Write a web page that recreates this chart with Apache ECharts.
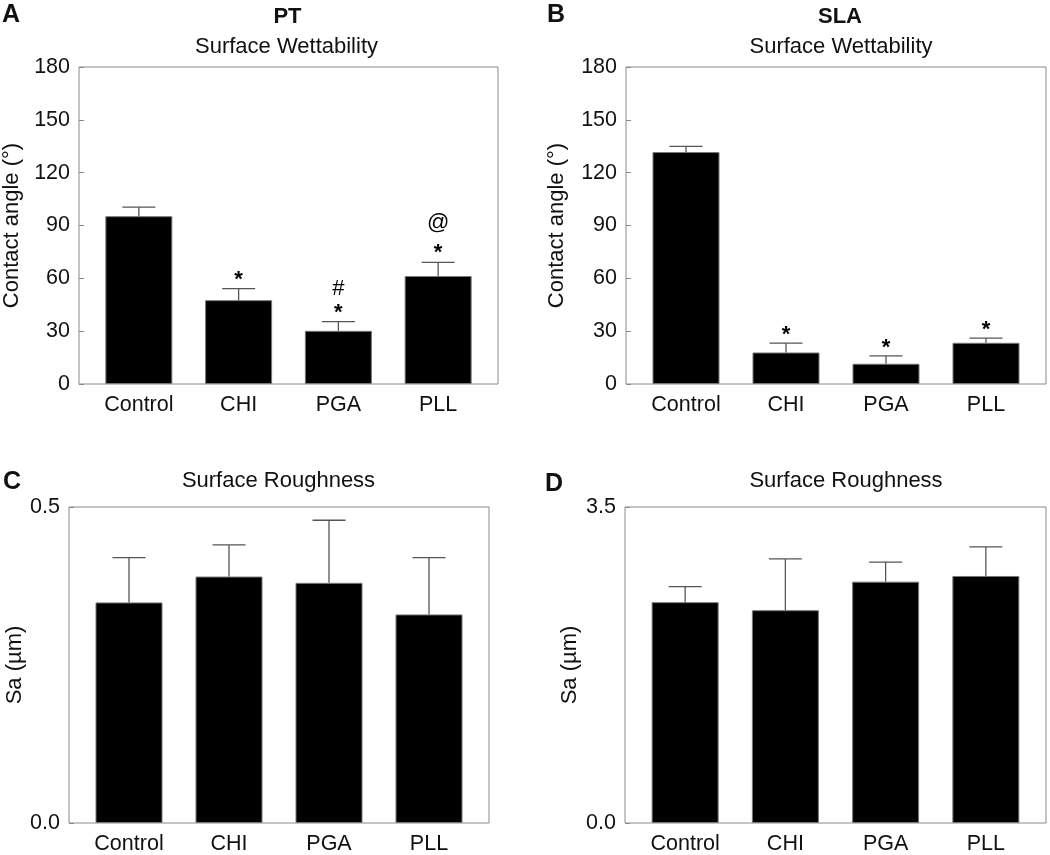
<!DOCTYPE html>
<html><head><meta charset="utf-8">
<script src="https://cdn.jsdelivr.net/npm/echarts@6/dist/echarts.min.js"></script>
<style>html,body{margin:0;padding:0;background:#fff}#c{width:1050px;height:855px}</style>
</head><body><div id="c"></div>
<script>
// ---- data ----
const categories = ['Control', 'CHI', 'PGA', 'PLL'];
// Panel A: PT, surface wettability (contact angle, deg)
const ptAngle = [95.3, 47.6, 30.2, 61.3];
const ptAngleErr = [5.1, 6.5, 5.2, 7.8];
const ptMarks = [[], ['*'], ['#', '*'], ['@', '*']];
// Panel B: SLA, surface wettability
const slaAngle = [131.7, 17.9, 11.5, 23.4];
const slaAngleErr = [3.2, 5.3, 4.5, 2.6];
const slaMarks = [[], ['*'], ['*'], ['*']];
// Panel C: PT, surface roughness Sa (um)
const ptSa = [0.349, 0.390, 0.380, 0.330];
const ptSaErr = [0.071, 0.050, 0.099, 0.090];
// Panel D: SLA, surface roughness Sa (um)
const slaSa = [2.446, 2.357, 2.673, 2.736];
const slaSaErr = [0.172, 0.569, 0.217, 0.322];
// axis ranges [min, max, interval]
const angleAxisRange = [0, 180, 30];
const ptSaAxisRange = [0, 0.5, 0.5];
const slaSaAxisRange = [0, 3.5, 3.5];

// ---- styles ----
const FONT = '"Liberation Sans", Arial, Helvetica, sans-serif';
const FRAME = '#8a8a8a';
const ERR = '#555';
const TXT = '#111';

const chart = echarts.init(document.getElementById('c'), null, {renderer: 'canvas'});

const grids = [
  {left: 77, top: 67, width: 421, height: 317},
  {left: 626, top: 67, width: 420, height: 317},
  {left: 69, top: 507, width: 420, height: 317},
  {left: 625, top: 507, width: 421, height: 317}
].map(g => Object.assign(g, {show: true, borderColor: FRAME, borderWidth: 1, backgroundColor: 'transparent'}));

const xAxes = grids.map((g, i) => ({
  type: 'value', gridIndex: i, min: -0.6, max: 3.6,
  axisLine: {show: false, onZero: false}, axisTick: {show: false}, splitLine: {show: false},
  axisLabel: {
    customValues: categories.map((c, k) => k),
    formatter: v => categories[Math.round(v)],
    fontSize: 21.5, fontFamily: FONT, color: TXT, margin: 10
  }
}));

function yAxis(i, range, name, gap, decimals) {
  return {
    type: 'value', gridIndex: i, min: range[0], max: range[1], interval: range[2],
    position: 'left',
    axisLine: {show: false, onZero: false},
    axisTick: {show: true, inside: true, length: 5, lineStyle: {color: FRAME}},
    splitLine: {show: false},
    axisLabel: {fontSize: 21.5, fontFamily: FONT, color: TXT, margin: 9,
      formatter: v => decimals ? v.toFixed(decimals) : String(v)},
    name: name, nameLocation: 'middle', nameGap: gap, nameRotate: 90,
    nameTextStyle: {fontSize: 22, fontFamily: FONT, color: TXT}
  };
}

const yAxes = [
  yAxis(0, angleAxisRange, 'Contact angle (°)', 56, 0),
  yAxis(1, angleAxisRange, 'Contact angle (°)', 58, 0),
  yAxis(2, ptSaAxisRange, 'Sa (µm)', 42, 1),
  yAxis(3, slaSaAxisRange, 'Sa (µm)', 44, 1)
];

function barSeries(i, means) {
  return {
    type: 'bar', xAxisIndex: i, yAxisIndex: i, barWidth: 67,
    data: means.map((m, k) => [k, m]),
    itemStyle: {color: '#000', borderColor: '#777', borderWidth: 1},
    silent: true, z: 2
  };
}

const markOffset = {'*': 9, '#': 33, '@': 39};
function errSeries(i, means, errs, marks, starShift) {
  return {
    type: 'custom', xAxisIndex: i, yAxisIndex: i, z: 5, silent: true,
    data: means.map((m, k) => [k, m, m + errs[k]]),
    renderItem: function (params, api) {
      const x = api.value(0);
      const p0 = api.coord([x, api.value(1)]);
      const p1 = api.coord([x, api.value(2)]);
      const hw = 16.5;
      const ls = {stroke: ERR, lineWidth: 1.3};
      const children = [
        {type: 'line', shape: {x1: p0[0], y1: p0[1], x2: p1[0], y2: p1[1]}, style: ls},
        {type: 'line', shape: {x1: p1[0] - hw, y1: p1[1], x2: p1[0] + hw, y2: p1[1]}, style: ls}
      ];
      const lines = marks ? marks[params.dataIndex] : [];
      lines.forEach(t => {
        const off = (t === '*' ? markOffset['*'] + (starShift || 0) : markOffset[t]);
        children.push({
          type: 'text', x: p1[0], y: p1[1] - off,
          style: {text: t, fill: '#000', align: 'center', verticalAlign: 'middle',
            font: (t === '*' ? 'bold 22px ' : '22px ') + FONT}
        });
      });
      return {type: 'group', children: children};
    }
  };
}

function txt(x, y, text, font, align) {
  return {type: 'text', x: x, y: y, silent: true,
    style: {text: text, font: font + ' ' + FONT, fill: TXT, align: align || 'center', verticalAlign: 'middle'}};
}

const option = {
  animation: false,
  backgroundColor: '#fff',
  grid: grids,
  xAxis: xAxes,
  yAxis: yAxes,
  series: [
    barSeries(0, ptAngle), errSeries(0, ptAngle, ptAngleErr, ptMarks, 0),
    barSeries(1, slaAngle), errSeries(1, slaAngle, slaAngleErr, slaMarks, -1),
    barSeries(2, ptSa), errSeries(2, ptSa, ptSaErr, null),
    barSeries(3, slaSa), errSeries(3, slaSa, slaSaErr, null)
  ],
  graphic: [
    txt(2, 15, 'A', 'bold 25px', 'left'),
    txt(547, 15, 'B', 'bold 25px', 'left'),
    txt(3, 482, 'C', 'bold 25px', 'left'),
    txt(545, 484, 'D', 'bold 25px', 'left'),
    txt(287.5, 16.5, 'PT', 'bold 22px'),
    txt(840, 16.5, 'SLA', 'bold 22px'),
    txt(286.5, 47, 'Surface Wettability', '22px'),
    txt(841, 47, 'Surface Wettability', '22px'),
    txt(278.5, 481, 'Surface Roughness', '22px'),
    txt(846, 481, 'Surface Roughness', '22px')
  ]
};
chart.setOption(option);
</script>
</body></html>
